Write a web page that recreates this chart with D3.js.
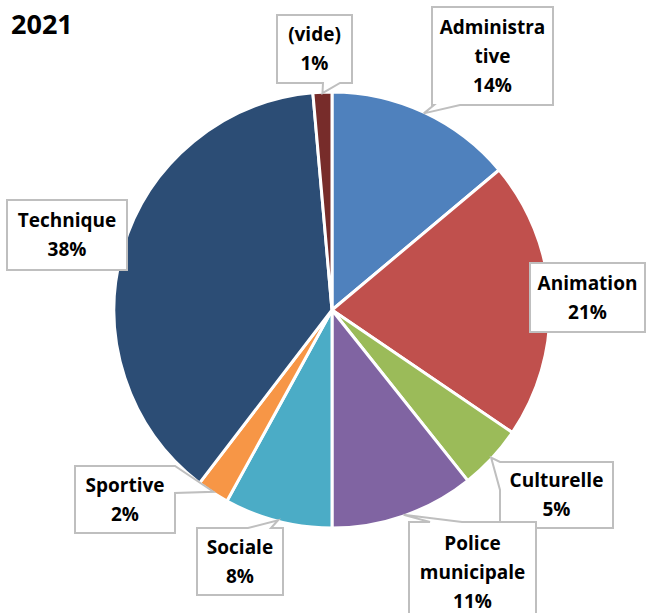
<!DOCTYPE html>
<html>
<head>
<meta charset="utf-8">
<script src="https://cdn.jsdelivr.net/npm/d3@7"></script>
<style>
  body { margin: 0; background: #fff; }
  text { font-family: "Open Sans", "Liberation Sans", sans-serif; font-weight: bold; fill: #000; font-variant-ligatures: none; }
</style>
</head>
<body>
<svg width="649" height="613"></svg>
<script>
// values (share of staff per sector, %)
var categories = ["Administrative", "Animation", "Culturelle", "Police municipale", "Sociale", "Sportive", "Technique", "(vide)"];
var values = [13.9, 20.6, 4.8, 10.7, 8.0, 2.4, 38.2, 1.4];
var colors = ["#4f81bd", "#c0504d", "#9bbb59", "#8064a2", "#4bacc6", "#f79646", "#2c4d75", "#772c2a"];

// callout boxes, same order as categories
// side = which box edge carries the pointer, b0/b1 = where the pointer base sits on it
var callouts = [
  { x0: 432, y0: 7,   x1: 553, y1: 105, lines: ["Administra", "tive"], side: "bottom", b0: 434, b1: 460 },
  { x0: 530, y0: 263, x1: 645, y1: 332, side: null },
  { x0: 500, y0: 462, x1: 613, y1: 528, side: "left", b0: 462, b1: 490 },
  { x0: 409, y0: 522, x1: 536, y1: 622, lines: ["Police", "municipale"], side: "top", b0: 430, b1: 462 },
  { x0: 197, y0: 528, x1: 283, y1: 595, side: "top", b0: 248, b1: 271 },
  { x0: 75,  y0: 466, x1: 175, y1: 533, side: "right", b0: 466, b1: 493 },
  { x0: 7,   y0: 200, x1: 127, y1: 270, side: null },
  { x0: 277, y0: 15,  x1: 352, y1: 83,  side: "bottom", b0: 323, b1: 340 }
];

var svg = d3.select("svg"),
    cx = 332, cy = 310, radius = 218,
    total = d3.sum(values);

var data = categories.map(function(c, i) { return { name: c, value: values[i], i: i }; });

var pie = d3.pie().sort(null).value(function(d) { return d.value; });
var arc = d3.arc().innerRadius(0).outerRadius(radius);
var arcs = pie(data);

var g = svg.append("g").attr("transform", "translate(" + cx + "," + cy + ")");

g.selectAll("path")
  .data(arcs)
  .enter().append("path")
    .attr("d", arc)
    .attr("fill", function(d) { return colors[d.data.i]; })
    .attr("stroke", "#fff")
    .attr("stroke-width", 3)
    .attr("stroke-linejoin", "round");

svg.append("text")
  .attr("x", 11).attr("y", 34)
  .style("font-size", "27px")
  .text("2021");

function calloutPath(b, tip) {
  var p = [[b.x0, b.y0]];
  if (b.side === "top") p.push([b.b0, b.y0], tip, [b.b1, b.y0]);
  p.push([b.x1, b.y0]);
  if (b.side === "right") p.push([b.x1, b.b0], tip, [b.x1, b.b1]);
  p.push([b.x1, b.y1]);
  if (b.side === "bottom") p.push([b.b1, b.y1], tip, [b.b0, b.y1]);
  p.push([b.x0, b.y1]);
  if (b.side === "left") p.push([b.x0, b.b1], tip, [b.x0, b.b0]);
  return "M" + p.map(function(q) { return q[0] + "," + q[1]; }).join("L") + "Z";
}

var lab = svg.selectAll("g.callout")
  .data(arcs)
  .enter().append("g")
    .attr("class", "callout");

lab.append("path")
  .attr("d", function(d) {
    var b = callouts[d.data.i],
        a = (d.startAngle + d.endAngle) / 2,
        tip = [cx + (radius - 1) * Math.sin(a), cy - (radius - 1) * Math.cos(a)];
    return calloutPath(b, tip);
  })
  .attr("fill", "#fff")
  .attr("stroke", "#bfbfbf")
  .attr("stroke-width", 2)
  .attr("stroke-linejoin", "miter");

lab.each(function(d) {
  var b = callouts[d.data.i],
      lines = (b.lines || [d.data.name]).concat([Math.round(d.data.value / total * 100) + "%"]),
      step = 29,
      mid = (b.y0 + b.y1) / 2,
      first = mid - (lines.length - 1) * step / 2;
  d3.select(this).selectAll("text")
    .data(lines)
    .enter().append("text")
      .attr("x", (b.x0 + b.x1) / 2)
      .attr("y", function(t, k) { return first + k * step; })
      .attr("dy", "0.35em")
      .attr("text-anchor", "middle")
      .style("font-size", "19px")
      .text(function(t) { return t; });
});
</script>
</body>
</html>
